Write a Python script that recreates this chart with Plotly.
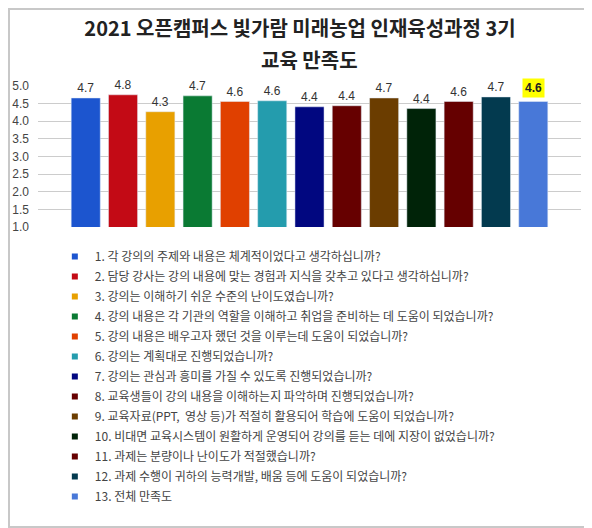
import plotly.graph_objects as go

# survey items (legend text) and average scores
questions = [
    '1. 각 강의의 주제와 내용은 체계적이었다고 생각하십니까?',
    '2. 담당 강사는 강의 내용에 맞는 경험과 지식을 갖추고 있다고 생각하십니까?',
    '3. 강의는 이해하기 쉬운 수준의 난이도였습니까?',
    '4. 강의 내용은 각 기관의 역할을 이해하고 취업을 준비하는 데 도움이 되었습니까?',
    '5. 강의 내용은 배우고자 했던 것을 이루는데 도움이 되었습니까?',
    '6. 강의는 계획대로 진행되었습니까?',
    '7. 강의는 관심과 흥미를 가질 수 있도록 진행되었습니까?',
    '8. 교육생들이 강의 내용을 이해하는지 파악하며 진행되었습니까?',
    '9. 교육자료(PPT,  영상 등)가 적절히 활용되어 학습에 도움이 되었습니까?',
    '10. 비대면 교육시스템이 원활하게 운영되어 강의를 듣는 데에 지장이 없었습니까?',
    '11. 과제는 분량이나 난이도가 적절했습니까?',
    '12. 과제 수행이 귀하의 능력개발, 배움 등에 도움이 되었습니까?',
    '13. 전체 만족도',
]
scores = [4.66, 4.75, 4.27, 4.72, 4.56, 4.58, 4.41, 4.44, 4.66, 4.36, 4.56, 4.69, 4.56]
colors = ['#1c55cf', '#c30a15', '#e8a000', '#0a7a33', '#e04000', '#249cad', '#010780',
          '#660000', '#6b3d00', '#002308', '#650000', '#033a4f', '#4878d8']

title_line1 = '2021 오픈캠퍼스 빛가람 미래농업 인재육성과정 3기'
title_line2 = '교육 만족도'

fig = go.Figure()

for i, (q, s, c) in enumerate(zip(questions, scores, colors)):
    last = i == len(questions) - 1
    fig.add_trace(go.Bar(
        x=[q], y=[s], marker_color=c, width=0.78,
        text=[''] if last else [f'{s:.1f}'], textposition='outside',
        textfont=dict(size=12, color='#333333', family='Liberation Sans, Arial'),
        cliponaxis=False, showlegend=False, legendgroup=q,
    ))
    # small square legend entry
    fig.add_trace(go.Scatter(
        x=[None], y=[None], mode='markers', name=q, legendgroup=q,
        marker=dict(symbol='square', size=6, color=c),
    ))

# overall satisfaction label highlighted in yellow
fig.add_annotation(
    x=questions[-1], y=scores[-1], text=f'<b>{scores[-1]:.1f}</b>',
    showarrow=False, yanchor='bottom', yshift=4, bgcolor='#ffff00', borderpad=2,
    font=dict(size=12, color='#222222', family='Liberation Sans, Arial'),
)

# second title line
fig.add_annotation(
    x=0.5, xref='paper', y=1.191, yref='paper', text=f'<b>{title_line2}</b>',
    showarrow=False, xanchor='center', yanchor='middle',
    font=dict(size=20, color='#222222', family='Noto Sans CJK KR'),
)

# light grey frame round the whole chart
fig.add_shape(type='rect', xref='paper', yref='paper',
              x0=-0.0534, x1=1.0184, y0=-2.128, y1=1.546,
              line=dict(color='#c8c8c8', width=2))

# page has an 8px body margin, so the figure is drawn 8px smaller
fig.update_layout(
    width=584, height=520,
    margin=dict(l=30, r=11, t=78, b=301),
    paper_bgcolor='white', plot_bgcolor='white',
    barmode='overlay',
    title=dict(text=title_line1, x=0.5, xanchor='center', y=0.9596, yanchor='middle',
               font=dict(size=20, color='#222222', family='Noto Sans CJK KR', weight='bold')),
    font=dict(family='Noto Sans CJK KR', color='#444444'),
    legend=dict(x=0.031, xanchor='left', y=-0.106, yanchor='top', maxheight=0.7,
                font=dict(size=12, color='#444444', family='Noto Sans CJK KR'),
                tracegroupgap=1, itemwidth=30),
)
fig.update_xaxes(showticklabels=False, showgrid=False, range=[-1.28, 13.28])
fig.update_yaxes(range=[1, 5], dtick=0.5, tickformat='.1f', gridcolor='#cccccc',
                 zeroline=False, ticklabelstandoff=8, automargin=False,
                 tickfont=dict(size=12, color='#444444', family='Liberation Sans, Arial'))

fig.write_html('out.html')
